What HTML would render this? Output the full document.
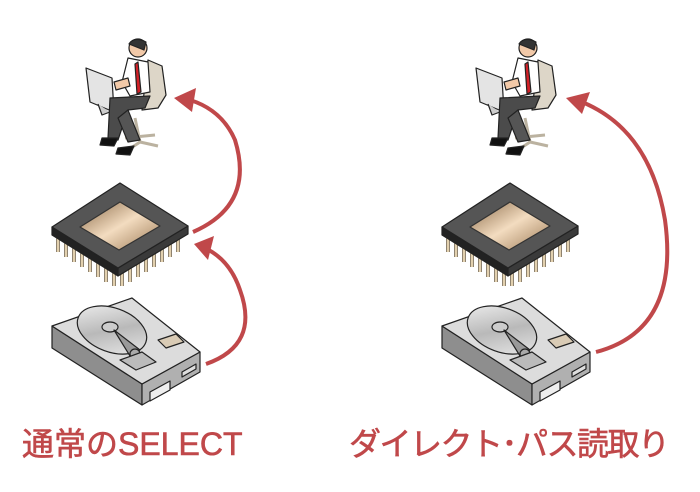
<!DOCTYPE html>
<html><head><meta charset="utf-8"><style>
html,body{margin:0;padding:0;background:#fff;width:700px;height:492px;overflow:hidden}
.t{position:absolute;top:424px;font-family:"Liberation Sans","Noto Sans CJK JP",sans-serif;font-size:32px;color:#c0484a;white-space:nowrap;line-height:40px;-webkit-text-stroke:0.6px #c0484a}
</style></head><body>
<svg width="700" height="492" style="position:absolute;left:0;top:0">
<defs>
<linearGradient id="gold" x1="0" y1="0" x2="1" y2="1"><stop offset="0" stop-color="#8a6a48"/><stop offset=".5" stop-color="#f3dcc0"/><stop offset="1" stop-color="#9c7a55"/></linearGradient>
<linearGradient id="disk" x1="0" y1="0" x2="1" y2="1"><stop offset="0" stop-color="#f4f4f4"/><stop offset=".5" stop-color="#b9b9b9"/><stop offset="1" stop-color="#eeeeee"/></linearGradient>
<g id="person" stroke="#222" stroke-width="1.2" stroke-linejoin="round">
<path d="M148 60 L162 66 L166 95 L158 108 L142 110 Z" fill="#ddd6c8"/>
<path d="M135 118 L140 142 M125 138 L155 135 M140 142 L128 150 M140 142 L158 146" fill="none" stroke="#bbb2a0" stroke-width="3"/>
<path d="M86 68 L112 78 L114 112 L90 102 Z" fill="#e4e4e4"/>
<path d="M98 104 L102 115 L110 112" fill="#ccc"/>
<path d="M128 58 L148 62 L150 92 L130 96 L122 82 Z" fill="#fff"/>
<path d="M138 62 L141 92 L137 94 L135 64Z" fill="#d31f26"/>
<circle cx="138" cy="48" r="9" fill="#f2c9a8"/>
<path d="M129 44 Q134 36 146 42 L144 50 Z" fill="#333"/>
<path d="M110 98 L150 96 L145 108 L128 110 L118 140 L108 138 Z" fill="#4b4b4b"/>
<path d="M128 110 L140 140 L128 142 L118 118Z" fill="#555"/>
<path d="M102 138 L118 138 L114 146 L100 145Z M118 148 L134 146 L130 155 L116 154Z" fill="#111"/>
<path d="M114 82 L128 78 L130 86 L116 90Z" fill="#f2c9a8"/>
</g>
<g id="chip" stroke="#222" stroke-width="1.2" stroke-linejoin="round">
<g stroke="#6a5a40" stroke-width="3.5">
<path d="M58 236 l0 16 M66 241 l0 16 M74 246 l0 16 M82 251 l0 16 M90 256 l0 16 M98 261 l0 16 M106 266 l0 16 M114 270 l0 16 M122 270 l0 16 M130 266 l0 16 M138 261 l0 16 M146 256 l0 16 M154 251 l0 16 M162 246 l0 16 M170 241 l0 16 M178 236 l0 16"/>
</g>
<g stroke="#e2d0ae" stroke-width="2">
<path d="M58 236 l0 16 M66 241 l0 16 M74 246 l0 16 M82 251 l0 16 M90 256 l0 16 M98 261 l0 16 M106 266 l0 16 M114 270 l0 16 M122 270 l0 16 M130 266 l0 16 M138 261 l0 16 M146 256 l0 16 M154 251 l0 16 M162 246 l0 16 M170 241 l0 16 M178 236 l0 16"/>
</g>
<path d="M52 227 L118 268 L118 276 L52 235 Z" fill="#222"/>
<path d="M118 268 L188 226 L188 234 L118 276Z" fill="#3a3a3a"/>
<path d="M52 227 L120 183 L188 226 L118 268 Z" fill="#555"/>
<path d="M80 227 L120 202 L160 226 L119 250 Z" fill="url(#gold)" stroke="#333"/>
</g>
<g id="hdd" stroke="#222" stroke-width="1.2" stroke-linejoin="round">
<path d="M52 326 L142 384 L142 405 L52 348Z" fill="#8e8e8e"/>
<path d="M142 384 L200 352 L200 372 L142 405Z" fill="#b0b0b0"/>
<path d="M52 326 L132 298 L200 352 L142 384 Z" fill="#dcdcdc"/>
<ellipse cx="112" cy="330" rx="36" ry="22" transform="rotate(20 112 330)" fill="url(#disk)"/>
<ellipse cx="110" cy="327" rx="8" ry="5" fill="#ccc"/>
<path d="M114 330 L140 350 L130 356Z" fill="#999"/>
<circle cx="135" cy="354" r="5" fill="#aaa"/>
<path d="M158 340 L176 334 L184 342 L166 348Z" fill="#d9cbb5"/>
<path d="M120 360 L142 352 L156 362 L136 370Z" fill="#bbb"/>
<path d="M150 392 L170 381 L170 390 L150 401Z" fill="#eee"/>
<path d="M182 372 L196 364 L196 369 L182 377Z" fill="#ddd"/>
</g>
</defs>
<use href="#person"/><use href="#chip"/><use href="#hdd"/>
<use href="#person" x="390"/><use href="#chip" x="390"/><use href="#hdd" x="390"/>
<g fill="none" stroke="#c0484a" stroke-width="4">
<path d="M193 232 Q255 205 235 140 Q222 110 190 100"/>
<path d="M206 364 Q260 345 240 290 Q230 260 205 248"/>
<path d="M596 352 Q680 330 665 220 Q650 130 582 102"/>
</g>
<g fill="#c0484a">
<path d="M174 98 L196 88 L192 112Z"/>
<path d="M194 244 L214 236 L208 260Z"/>
<path d="M566 98 L590 92 L582 114Z"/>
</g>
</svg>
<div class="t" style="left:22px;letter-spacing:0px">通常のSELECT</div>
<div class="t" style="left:349px;letter-spacing:-1.5px">ダイレクト･パス読取り</div>
</body></html>
